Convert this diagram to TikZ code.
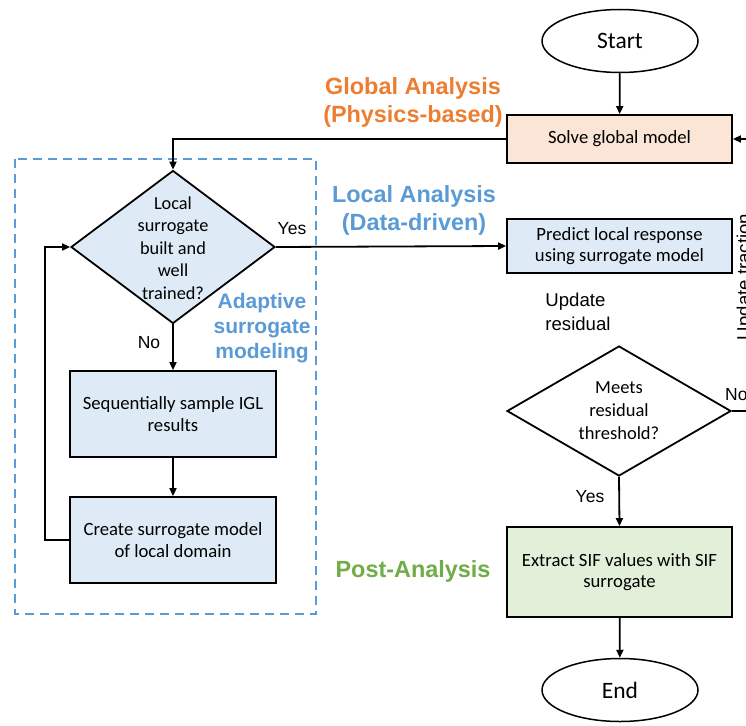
\documentclass[tikz,border=0pt]{standalone}
\usepackage{fontspec}
\setmainfont{Carlito}
\newfontfamily\arialf{Liberation Sans}
\usetikzlibrary{shapes.geometric,arrows.meta}
\definecolor{orangeT}{HTML}{ED7D31}
\definecolor{blueT}{HTML}{5B9BD5}
\definecolor{greenT}{HTML}{70AD47}
\definecolor{fillO}{HTML}{FBE5D6}
\definecolor{fillB}{HTML}{DEEBF7}
\definecolor{fillG}{HTML}{E2F0D9}
\begin{document}
\begin{tikzpicture}[x=1pt,y=-1pt,
  boxtxt/.style={font=\fontsize{18.7}{21.5}\selectfont, align=center},
  procbox/.style={draw=black, line width=1.8pt, rectangle, inner sep=0pt, boxtxt},
  oval/.style={draw=black, line width=1.5pt, ellipse, inner sep=0pt, minimum width=156pt, minimum height=63pt, font=\fontsize{23.5}{26}\selectfont},
  dia/.style={draw=black, line width=1.8pt, diamond, inner sep=0pt},
  arr/.style={line width=1.8pt, -{Triangle[length=8pt,width=7pt]}},
  plain/.style={line width=1.8pt},
  yn/.style={font=\arialf\fontsize{17.5}{20}\selectfont, inner sep=0pt},
  sec/.style={font=\arialf\bfseries\fontsize{23.4}{28}\selectfont, align=center, inner sep=0pt}
]
\useasboundingbox (0,0) rectangle (746,725);
\clip (0,0) rectangle (746,725);
\fill[white] (0,0) rectangle (746,725);

% dashed adaptive region
\draw[blueT, line width=2.2pt, dash pattern=on 9pt off 6pt] (15,159) rectangle (316,614);

% right column
\node[oval] (start) at (620,41) {Start};
\node[procbox, fill=fillO, minimum width=225pt, minimum height=48pt] (solve) at (619.5,139) {Solve global model};
\node[procbox, fill=fillB, minimum width=225pt, minimum height=54pt] (pred) at (619.5,246) {Predict local response\\using surrogate model};
\node[font=\arialf\fontsize{18.6}{24}\selectfont, align=left, inner sep=0pt] (updres) at (578,312) {Update\\residual};
\node[dia, minimum width=224pt, minimum height=130pt] (d2) at (619,411) {};
\node[boxtxt, font=\fontsize{18.5}{23}\selectfont] (d2t) at (d2.center) {Meets\\residual\\threshold?};
\node[procbox, fill=fillG, minimum width=225pt, minimum height=90pt] (ext) at (619.5,572) {Extract SIF values with SIF\\surrogate};
\node[oval] (end) at (620,690) {End};

% left column
\node[dia, fill=fillB, minimum width=204pt, minimum height=153pt] (d1) at (173,247) {};
\node[boxtxt, font=\fontsize{18.3}{22.5}\selectfont] (d1t) at (173,248) {Local\\surrogate\\built and\\well\\trained?};
\node[procbox, fill=fillB, minimum width=206pt, minimum height=86pt] (seq) at (173,414) {Sequentially sample IGL\\results};
\node[procbox, fill=fillB, minimum width=206pt, minimum height=86pt] (create) at (173,540) {Create surrogate model\\of local domain};

% section labels
\node[sec, text=orangeT] (glob) at (413,102) {Global Analysis\\(Physics-based)};
\node[sec, text=blueT] (loc) at (414,210) {Local Analysis\\(Data-driven)};
\node[sec, text=blueT, font=\arialf\bfseries\fontsize{21}{25}\selectfont] (adap) at (262,328) {Adaptive\\surrogate\\modeling};
\node[sec, text=greenT] (post) at (413,571) {Post-Analysis};

% yes/no labels
\node[yn] (yes1) at (292,229) {Yes};
\node[yn] (no1) at (149,343) {No};
\node[yn] (yes2) at (590,497) {Yes};
\node[yn, anchor=west] (no2) at (725,395) {No};
\node[font=\arialf\fontsize{18.6}{22}\selectfont, rotate=90, anchor=base, inner sep=0pt] (updtr) at (750,277) {Update traction};

% coordinates at the cut edge
\coordinate (rin) at (752,139);
\coordinate (rout) at (752,411);

% connectors
\draw[arr] (start) -- (solve);
\draw[arr] (rin) -- (solve.east);
\draw[arr] (solve.west) -| (d1.north);
\draw[arr] (d1.east) -- (pred.west);
\draw[arr] (d1.south) -- (seq.north);
\draw[arr] (seq) -- (create);
\draw[arr] (create.west) -- ++(-24,0) |- (d1.west);
\draw[plain] (d2.east) -- (rout);
\draw[arr] (d2.south) -- (ext.north);
\draw[arr] (ext) -- (end);
\end{tikzpicture}
\end{document}
